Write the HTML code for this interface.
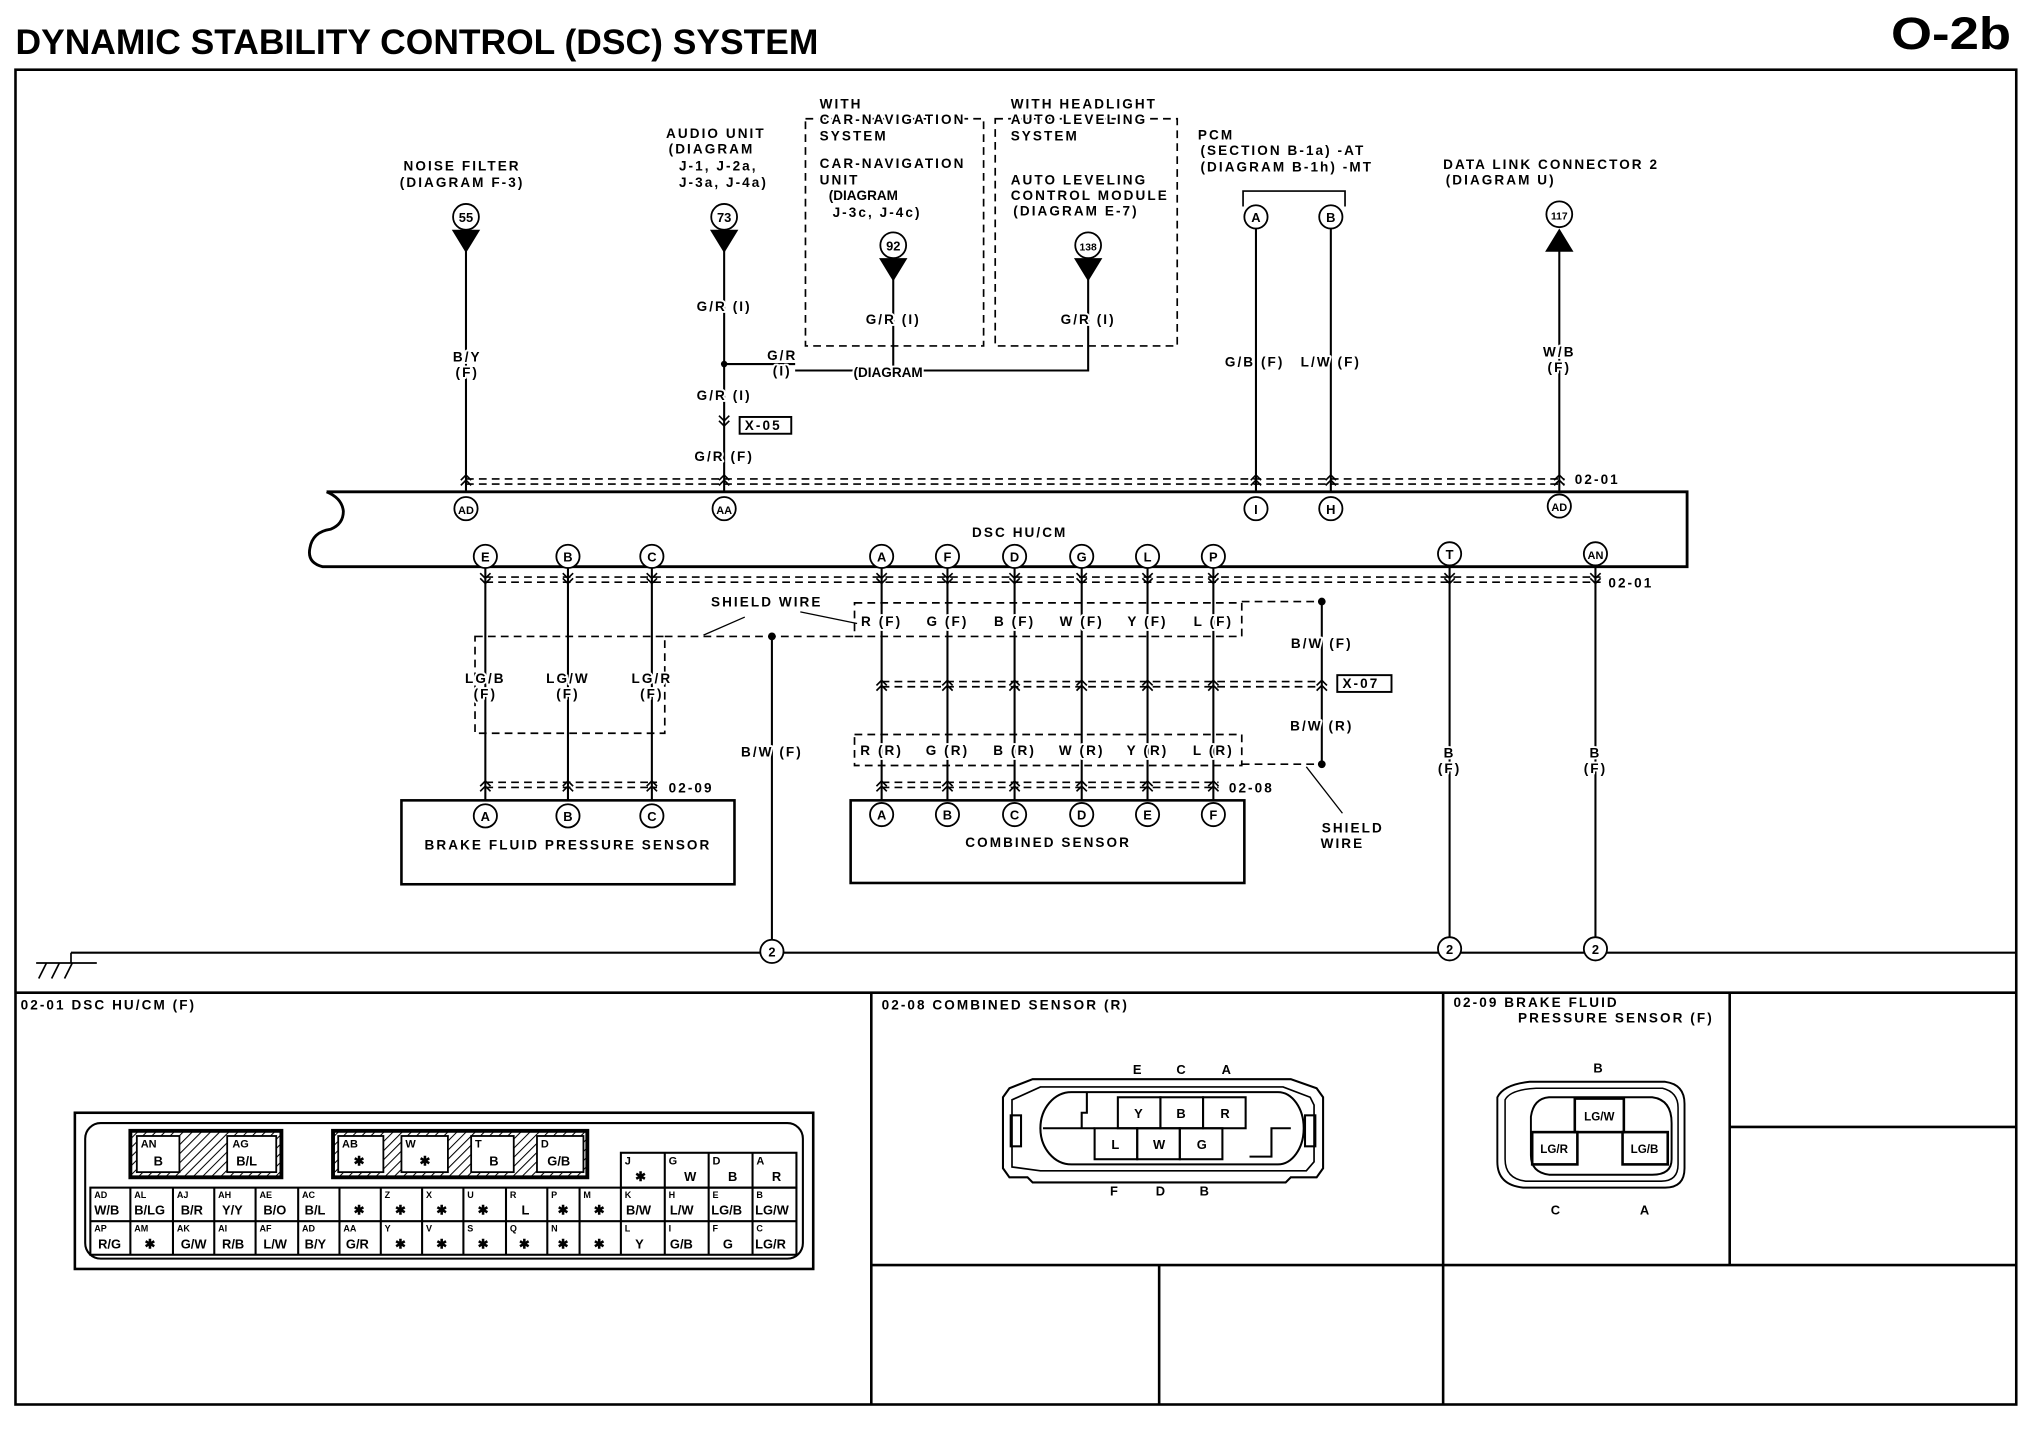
<!DOCTYPE html>
<html><head><meta charset="utf-8"><style>
html,body{margin:0;padding:0;background:#fff;}
svg{display:block;}
text{font-family:"Liberation Sans",sans-serif;fill:#000;}
.s{font-size:10.5px;font-weight:bold;letter-spacing:1.6px;paint-order:stroke;stroke:#fff;stroke-width:3px;stroke-linejoin:round;}
.c{font-size:8.5px;font-weight:bold;}
.cl{font-size:10px;font-weight:bold;}
</style></head><body>
<svg width="2024" height="1440" viewBox="0 0 1568 1115.5" preserveAspectRatio="none" xmlns="http://www.w3.org/2000/svg">
<defs>
<g id="chu"><polyline points="-4,2 0,-2 4,2" fill="none" stroke="#000" stroke-width="1.3"/><polyline points="-4,6 0,2 4,6" fill="none" stroke="#000" stroke-width="1.3"/></g>
<g id="chd"><polyline points="-4,-2 0,2 4,-2" fill="none" stroke="#000" stroke-width="1.3"/><polyline points="-4,-6 0,-2 4,-6" fill="none" stroke="#000" stroke-width="1.3"/></g>
<pattern id="hatch" width="5" height="5" patternUnits="userSpaceOnUse" patternTransform="rotate(45)"><line x1="0" y1="0" x2="0" y2="5" stroke="#000" stroke-width="1.6"/></pattern>
</defs>
<!-- title -->
<text x="12" y="42" style="font-size:27px;font-weight:bold" textLength="622" lengthAdjust="spacingAndGlyphs">DYNAMIC STABILITY CONTROL (DSC) SYSTEM</text>
<text x="1465" y="38" style="font-size:35px;font-weight:bold" textLength="93" lengthAdjust="spacingAndGlyphs">O-2b</text>
<g fill="none" stroke="#000">
<rect x="12" y="54" width="1550" height="1034" stroke-width="2"/>
<line x1="55" y1="738" x2="1562" y2="738" stroke-width="1.6"/>
<polyline points="28,746 75,746" stroke-width="1.3"/>
<line x1="55" y1="738" x2="55" y2="746" stroke-width="1.3"/>
<line x1="30" y1="758" x2="36" y2="746" stroke-width="1.3"/><line x1="40" y1="758" x2="46" y2="746" stroke-width="1.3"/><line x1="50" y1="758" x2="56" y2="746" stroke-width="1.3"/>
<line x1="12" y1="769" x2="1562" y2="769" stroke-width="2"/>
<line x1="675" y1="769" x2="675" y2="1088" stroke-width="2"/>
<line x1="1118" y1="769" x2="1118" y2="1088" stroke-width="2"/>
<line x1="1340" y1="769" x2="1340" y2="980" stroke-width="2"/>
<line x1="675" y1="980" x2="1562" y2="980" stroke-width="2"/>
<line x1="898" y1="980" x2="898" y2="1088" stroke-width="2"/>
<line x1="1340" y1="873" x2="1562" y2="873" stroke-width="2"/>
<!-- module -->
<path d="M253,381 L1307,381 L1307,439 L250,439 Q238,436 240,425 Q242,412 256,410 Q266,406 266,396 Q265,386 253,381" stroke-width="2.2"/>
</g>
<!-- top connector dashed -->
<g stroke="#000" stroke-width="1.3" stroke-dasharray="6,4" fill="none">
<line x1="361" y1="371" x2="1212" y2="371"/><line x1="361" y1="375" x2="1212" y2="375"/>
<line x1="376" y1="447" x2="1240" y2="447"/><line x1="376" y1="451" x2="1240" y2="451"/>
<line x1="376" y1="606" x2="509" y2="606"/><line x1="376" y1="610" x2="509" y2="610"/>
<line x1="683" y1="606" x2="944" y2="606"/><line x1="683" y1="610" x2="944" y2="610"/>
<line x1="683" y1="528" x2="1024" y2="528"/><line x1="683" y1="532" x2="1024" y2="532"/>
<rect x="624" y="92" width="138" height="176"/><rect x="771" y="92" width="141" height="176"/>
<rect x="368" y="493" width="147" height="75"/>
<rect x="662" y="467" width="300" height="26"/>
<rect x="662" y="569" width="300" height="24"/>
<line x1="962" y1="466" x2="1024" y2="466"/><line x1="962" y1="592" x2="1024" y2="592"/>
<line x1="515" y1="493" x2="662" y2="493"/>
</g>
<!-- wires -->
<g stroke="#000" stroke-width="1.6" fill="none">
<line x1="361" y1="190" x2="361" y2="381"/>
<line x1="561" y1="190" x2="561" y2="381"/>
<line x1="973" y1="177" x2="973" y2="381"/>
<line x1="1031" y1="177" x2="1031" y2="381"/>
<line x1="1208" y1="180" x2="1208" y2="381"/>
<polyline points="561,282 616,282"/>
<polyline points="616,287 843,287 843,212"/>
<line x1="692" y1="212" x2="692" y2="287"/>
<polyline points="963,160 963,148 1042,148 1042,160" stroke-width="1.3"/>
<line x1="376" y1="439" x2="376" y2="620"/><line x1="440" y1="439" x2="440" y2="620"/><line x1="505" y1="439" x2="505" y2="620"/>
<line x1="683" y1="439" x2="683" y2="620"/><line x1="734" y1="439" x2="734" y2="620"/><line x1="786" y1="439" x2="786" y2="620"/>
<line x1="838" y1="439" x2="838" y2="620"/><line x1="889" y1="439" x2="889" y2="620"/><line x1="940" y1="439" x2="940" y2="620"/>
<line x1="1123" y1="439" x2="1123" y2="738"/><line x1="1236" y1="439" x2="1236" y2="738"/>
<line x1="598" y1="493" x2="598" y2="738"/>
<line x1="1024" y1="466" x2="1024" y2="592"/>
<rect x="311" y="620" width="258" height="65" stroke-width="2"/>
<rect x="659" y="620" width="305" height="64" stroke-width="2"/>
<line x1="1040" y1="630" x2="1012" y2="594" stroke-width="1"/>
<line x1="577" y1="478" x2="545" y2="492" stroke-width="1"/>
<line x1="620" y1="474" x2="664" y2="483" stroke-width="1"/>
</g>
<text x="790" y="416" class="s" text-anchor="middle">DSC HU/CM</text>
<text x="1220" y="375" class="s">02-01</text>
<text x="1246" y="455" class="s">02-01</text>
<text x="518" y="614" class="s">02-09</text>
<text x="952" y="614" class="s">02-08</text>
<g fill="#000"><circle cx="561" cy="282" r="2.5"/><circle cx="598" cy="493" r="3"/><circle cx="1024" cy="466" r="3"/><circle cx="1024" cy="592" r="3"/>
<polygon points="350,178 372,178 361,196"/><polygon points="550,178 572,178 561,196"/>
<polygon points="681,200 703,200 692,218"/><polygon points="832,200 854,200 843,218"/>
<polygon points="1197,195 1219,195 1208,177"/>
</g>
<!-- chevrons -->
<g>
<use href="#chu" x="361" y="370"/><use href="#chu" x="561" y="370"/><use href="#chu" x="973" y="370"/><use href="#chu" x="1031" y="370"/><use href="#chu" x="1208" y="370"/>
<use href="#chd" x="561" y="328"/>
<use href="#chd" x="376" y="450"/><use href="#chd" x="440" y="450"/><use href="#chd" x="505" y="450"/><use href="#chd" x="683" y="450"/><use href="#chd" x="734" y="450"/><use href="#chd" x="786" y="450"/><use href="#chd" x="838" y="450"/><use href="#chd" x="889" y="450"/><use href="#chd" x="940" y="450"/><use href="#chd" x="1123" y="450"/><use href="#chd" x="1236" y="450"/>
<use href="#chu" x="376" y="607"/><use href="#chu" x="440" y="607"/><use href="#chu" x="505" y="607"/><use href="#chu" x="683" y="607"/><use href="#chu" x="734" y="607"/><use href="#chu" x="786" y="607"/><use href="#chu" x="838" y="607"/><use href="#chu" x="889" y="607"/><use href="#chu" x="940" y="607"/>
<use href="#chu" x="683" y="529"/><use href="#chu" x="734" y="529"/><use href="#chu" x="786" y="529"/><use href="#chu" x="838" y="529"/><use href="#chu" x="889" y="529"/><use href="#chu" x="940" y="529"/><use href="#chu" x="1024" y="529"/>
</g>
<rect x="573" y="323" width="40" height="13" fill="none" stroke="#000" stroke-width="1.5"/><text x="577" y="333" class="s">X-05</text>
<rect x="1036" y="523" width="42" height="13" fill="none" stroke="#000" stroke-width="1.5"/><text x="1040" y="533" class="s">X-07</text>
<!-- pin circles -->
<g fill="#fff" stroke="#000" stroke-width="1.4">
<circle cx="361" cy="168" r="10"/><circle cx="561" cy="168" r="10"/><circle cx="692" cy="190" r="10"/><circle cx="843" cy="190" r="10"/><circle cx="1208" cy="166" r="10"/>
<circle cx="973" cy="168" r="9"/><circle cx="1031" cy="168" r="9"/>
<circle cx="361" cy="394" r="9"/><circle cx="561" cy="394" r="9"/><circle cx="973" cy="394" r="9"/><circle cx="1031" cy="394" r="9"/><circle cx="1208" cy="392" r="9"/>
<circle cx="376" cy="431" r="9"/><circle cx="440" cy="431" r="9"/><circle cx="505" cy="431" r="9"/><circle cx="683" cy="431" r="9"/><circle cx="734" cy="431" r="9"/><circle cx="786" cy="431" r="9"/><circle cx="838" cy="431" r="9"/><circle cx="889" cy="431" r="9"/><circle cx="940" cy="431" r="9"/><circle cx="1123" cy="429" r="9"/><circle cx="1236" cy="429" r="9"/>
<circle cx="376" cy="632" r="9"/><circle cx="440" cy="632" r="9"/><circle cx="505" cy="632" r="9"/>
<circle cx="683" cy="631" r="9"/><circle cx="734" cy="631" r="9"/><circle cx="786" cy="631" r="9"/><circle cx="838" cy="631" r="9"/><circle cx="889" cy="631" r="9"/><circle cx="940" cy="631" r="9"/>
<circle cx="598" cy="737" r="9"/><circle cx="1123" cy="735" r="9"/><circle cx="1236" cy="735" r="9"/>
</g>
<g class="cl" text-anchor="middle" style="font-size:10px;font-weight:bold">
<text x="361" y="172">55</text><text x="561" y="172">73</text><text x="692" y="194">92</text><text x="843" y="194" style="font-size:8px">138</text><text x="1208" y="170" style="font-size:8px">117</text>
<text x="973" y="172">A</text><text x="1031" y="172">B</text>
<text x="361" y="398" style="font-size:8.5px">AD</text><text x="561" y="398" style="font-size:8.5px">AA</text><text x="973" y="398">I</text><text x="1031" y="398">H</text><text x="1208" y="396" style="font-size:8.5px">AD</text>
<text x="376" y="435">E</text><text x="440" y="435">B</text><text x="505" y="435">C</text><text x="683" y="435">A</text><text x="734" y="435">F</text><text x="786" y="435">D</text><text x="838" y="435">G</text><text x="889" y="435">L</text><text x="940" y="435">P</text><text x="1123" y="433">T</text><text x="1236" y="433" style="font-size:8.5px">AN</text>
<text x="376" y="636">A</text><text x="440" y="636">B</text><text x="505" y="636">C</text>
<text x="683" y="635">A</text><text x="734" y="635">B</text><text x="786" y="635">C</text><text x="838" y="635">D</text><text x="889" y="635">E</text><text x="940" y="635">F</text>
<text x="598" y="741">2</text><text x="1123" y="739">2</text><text x="1236" y="739">2</text>
</g>
<!-- labels -->
<g class="s">
<text x="358" y="132" text-anchor="middle">NOISE FILTER</text><text x="358" y="145" text-anchor="middle">(DIAGRAM F-3)</text>
<text x="516" y="107">AUDIO UNIT</text><text x="518" y="119">(DIAGRAM</text><text x="526" y="132">J-1, J-2a,</text><text x="526" y="145">J-3a, J-4a)</text>
<text x="635" y="84">WITH</text><text x="635" y="96">CAR-NAVIGATION</text><text x="635" y="109">SYSTEM</text>
<text x="635" y="130">CAR-NAVIGATION</text><text x="635" y="143">UNIT</text><text x="642" y="155" style="letter-spacing:0">(DIAGRAM</text><text x="645" y="168">J-3c, J-4c)</text>
<text x="783" y="84">WITH HEADLIGHT</text><text x="783" y="96">AUTO LEVELING</text><text x="783" y="109">SYSTEM</text>
<text x="783" y="143">AUTO LEVELING</text><text x="783" y="155">CONTROL MODULE</text><text x="785" y="167">(DIAGRAM E-7)</text>
<text x="928" y="108">PCM</text><text x="930" y="120">(SECTION B-1a) -AT</text><text x="930" y="133">(DIAGRAM B-1h) -MT</text>
<text x="1118" y="131">DATA LINK CONNECTOR 2</text><text x="1120" y="143">(DIAGRAM U)</text>
<text x="362" y="280" text-anchor="middle">B/Y</text><text x="362" y="292" text-anchor="middle">(F)</text>
<text x="561" y="241" text-anchor="middle">G/R (I)</text><text x="606" y="279" text-anchor="middle">G/R</text><text x="606" y="291" text-anchor="middle">(I)</text>
<text x="688" y="292" text-anchor="middle" style="letter-spacing:0">(DIAGRAM</text>
<text x="561" y="310" text-anchor="middle">G/R (I)</text><text x="561" y="357" text-anchor="middle">G/R (F)</text>
<text x="692" y="251" text-anchor="middle">G/R (I)</text><text x="843" y="251" text-anchor="middle">G/R (I)</text>
<text x="972" y="284" text-anchor="middle">G/B (F)</text><text x="1031" y="284" text-anchor="middle">L/W (F)</text>
<text x="1208" y="276" text-anchor="middle">W/B</text><text x="1208" y="288" text-anchor="middle">(F)</text>
<text x="594" y="470" text-anchor="middle">SHIELD WIRE</text>
<text x="683" y="485" text-anchor="middle">R (F)</text><text x="734" y="485" text-anchor="middle">G (F)</text><text x="786" y="485" text-anchor="middle">B (F)</text><text x="838" y="485" text-anchor="middle">W (F)</text><text x="889" y="485" text-anchor="middle">Y (F)</text><text x="940" y="485" text-anchor="middle">L (F)</text>
<text x="683" y="585" text-anchor="middle">R (R)</text><text x="734" y="585" text-anchor="middle">G (R)</text><text x="786" y="585" text-anchor="middle">B (R)</text><text x="838" y="585" text-anchor="middle">W (R)</text><text x="889" y="585" text-anchor="middle">Y (R)</text><text x="940" y="585" text-anchor="middle">L (R)</text>
<text x="1024" y="502" text-anchor="middle">B/W (F)</text><text x="1024" y="566" text-anchor="middle">B/W (R)</text>
<text x="376" y="529" text-anchor="middle">LG/B</text><text x="376" y="541" text-anchor="middle">(F)</text>
<text x="440" y="529" text-anchor="middle">LG/W</text><text x="440" y="541" text-anchor="middle">(F)</text>
<text x="505" y="529" text-anchor="middle">LG/R</text><text x="505" y="541" text-anchor="middle">(F)</text>
<text x="598" y="586" text-anchor="middle">B/W (F)</text>
<text x="1123" y="587" text-anchor="middle">B</text><text x="1123" y="599" text-anchor="middle">(F)</text>
<text x="1236" y="587" text-anchor="middle">B</text><text x="1236" y="599" text-anchor="middle">(F)</text>
<text x="1048" y="645" text-anchor="middle">SHIELD</text><text x="1040" y="657" text-anchor="middle">WIRE</text>
<text x="440" y="658" text-anchor="middle">BRAKE FLUID PRESSURE SENSOR</text>
<text x="812" y="656" text-anchor="middle">COMBINED SENSOR</text>
<text x="16" y="782">02-01 DSC HU/CM (F)</text>
<text x="683" y="782">02-08 COMBINED SENSOR (R)</text>
<text x="1126" y="780">02-09 BRAKE FLUID</text><text x="1176" y="792">PRESSURE SENSOR (F)</text>
</g>
<!-- DSC connector table -->
<g fill="none" stroke="#000">
<rect x="58" y="862" width="572" height="121" stroke-width="2"/>
<rect x="66" y="870" width="556" height="105" rx="12" stroke-width="1.6"/>
<rect x="101" y="876" width="117" height="36" fill="url(#hatch)" stroke-width="3"/>
<rect x="258" y="876" width="197" height="36" fill="url(#hatch)" stroke-width="3"/>
</g>
<g fill="#fff" stroke="#000" stroke-width="1.4">
<rect x="106" y="880" width="33" height="28"/><rect x="176" y="880" width="38" height="28"/>
<rect x="262" y="880" width="35" height="28"/><rect x="311" y="880" width="36" height="28"/><rect x="365" y="880" width="33" height="28"/><rect x="416" y="880" width="36" height="28"/>
</g>
<g fill="none" stroke="#000" stroke-width="1.6">
<rect x="481" y="893" width="136" height="27"/>
<line x1="515" y1="893" x2="515" y2="972"/><line x1="549" y1="893" x2="549" y2="972"/><line x1="583" y1="893" x2="583" y2="972"/>
<rect x="70" y="920" width="547" height="52"/><line x1="70" y1="946" x2="617" y2="946"/>
<line x1="101" y1="920" x2="101" y2="972"/><line x1="134" y1="920" x2="134" y2="972"/><line x1="166" y1="920" x2="166" y2="972"/><line x1="198" y1="920" x2="198" y2="972"/><line x1="231" y1="920" x2="231" y2="972"/><line x1="263" y1="920" x2="263" y2="972"/><line x1="295" y1="920" x2="295" y2="972"/><line x1="327" y1="920" x2="327" y2="972"/><line x1="359" y1="920" x2="359" y2="972"/><line x1="392" y1="920" x2="392" y2="972"/><line x1="424" y1="920" x2="424" y2="972"/><line x1="449" y1="920" x2="449" y2="972"/><line x1="481" y1="920" x2="481" y2="972"/>
</g>
<g class="c">
<text x="109" y="889">AN</text><text x="119" y="903" class="cl">B</text><text x="180" y="889">AG</text><text x="183" y="903" class="cl">B/L</text>
<text x="265" y="889">AB</text><text x="274" y="903" class="cl">✱</text><text x="314" y="889">W</text><text x="325" y="903" class="cl">✱</text>
<text x="368" y="889">T</text><text x="379" y="903" class="cl">B</text><text x="419" y="889">D</text><text x="424" y="903" class="cl">G/B</text>
<text x="484" y="902">J</text><text x="492" y="915" class="cl">✱</text><text x="518" y="902">G</text><text x="530" y="915" class="cl">W</text><text x="552" y="902">D</text><text x="564" y="915" class="cl">B</text><text x="586" y="902">A</text><text x="598" y="915" class="cl">R</text>
</g>
<g class="c" style="font-size:10px">
<text x="73" y="941">W/B</text><text x="104" y="941">B/LG</text><text x="140" y="941">B/R</text><text x="172" y="941">Y/Y</text><text x="204" y="941">B/O</text><text x="236" y="941">B/L</text><text x="274" y="941">✱</text><text x="306" y="941">✱</text><text x="338" y="941">✱</text><text x="370" y="941">✱</text><text x="404" y="941">L</text><text x="432" y="941">✱</text><text x="460" y="941">✱</text><text x="485" y="941">B/W</text><text x="519" y="941">L/W</text><text x="551" y="941">LG/B</text><text x="585" y="941">LG/W</text>
<text x="76" y="967">R/G</text><text x="112" y="967">✱</text><text x="140" y="967">G/W</text><text x="172" y="967">R/B</text><text x="204" y="967">L/W</text><text x="236" y="967">B/Y</text><text x="268" y="967">G/R</text><text x="306" y="967">✱</text><text x="338" y="967">✱</text><text x="370" y="967">✱</text><text x="402" y="967">✱</text><text x="432" y="967">✱</text><text x="460" y="967">✱</text><text x="492" y="967">Y</text><text x="519" y="967">G/B</text><text x="560" y="967">G</text><text x="585" y="967">LG/R</text>
</g>
<g class="c" style="font-size:7px">
<text x="73" y="928">AD</text><text x="104" y="928">AL</text><text x="137" y="928">AJ</text><text x="169" y="928">AH</text><text x="201" y="928">AE</text><text x="234" y="928">AC</text><text x="298" y="928">Z</text><text x="330" y="928">X</text><text x="362" y="928">U</text><text x="395" y="928">R</text><text x="427" y="928">P</text><text x="452" y="928">M</text><text x="484" y="928">K</text><text x="518" y="928">H</text><text x="552" y="928">E</text><text x="586" y="928">B</text>
<text x="73" y="954">AP</text><text x="104" y="954">AM</text><text x="137" y="954">AK</text><text x="169" y="954">AI</text><text x="201" y="954">AF</text><text x="234" y="954">AD</text><text x="266" y="954">AA</text><text x="298" y="954">Y</text><text x="330" y="954">V</text><text x="362" y="954">S</text><text x="395" y="954">Q</text><text x="427" y="954">N</text><text x="484" y="954">L</text><text x="518" y="954">I</text><text x="552" y="954">F</text><text x="586" y="954">C</text>
</g>
<!-- combined sensor connector -->
<g fill="none" stroke="#000" stroke-width="1.6">
<path d="M800,836 L1000,836 L1020,843 L1025,850 L1025,905 L1020,912 L1000,912 L996,916 L800,916 L796,912 L782,912 L777,905 L777,850 L782,843 Z"/>
<path d="M806,842 L994,842 L1015,850 L1018,856 L1018,900 L1012,907 L806,907 L784,904 L784,852 Z" stroke-width="1.3"/>
<path d="M830,846 L990,846 A20,28 0 0 1 990,902 L830,902 A24,28 0 0 1 830,846 Z"/>
<line x1="808" y1="874" x2="848" y2="874"/>
<polyline points="842,846 842,862 838,862 838,874"/>
<polyline points="968,896 985,896 985,874 1000,874"/>
<rect x="783" y="864" width="8" height="24"/><rect x="1011" y="864" width="8" height="24"/>
<rect x="866" y="850" width="33" height="24"/><rect x="899" y="850" width="33" height="24"/><rect x="932" y="850" width="33" height="24"/>
<rect x="848" y="874" width="33" height="24"/><rect x="881" y="874" width="33" height="24"/><rect x="914" y="874" width="33" height="24"/>
</g>
<g class="cl" text-anchor="middle">
<text x="881" y="832">E</text><text x="915" y="832">C</text><text x="950" y="832">A</text>
<text x="882" y="866">Y</text><text x="915" y="866">B</text><text x="949" y="866">R</text>
<text x="864" y="890">L</text><text x="898" y="890">W</text><text x="931" y="890">G</text>
<text x="863" y="926">F</text><text x="899" y="926">D</text><text x="933" y="926">B</text>
</g>
<!-- brake fluid connector -->
<g fill="none" stroke="#000" stroke-width="1.5">
<path d="M1185,838 L1290,838 Q1305,840 1305,855 L1305,905 Q1305,920 1290,920 L1180,920 Q1160,918 1160,900 L1160,850 Q1165,840 1185,838 Z"/>
<path d="M1190,843 L1288,843 Q1300,846 1300,858 L1300,902 Q1300,915 1287,915 L1182,915 Q1166,913 1166,898 L1166,852 Q1170,844 1190,843 Z" stroke-width="1.2"/>
<path d="M1200,850 L1280,850 Q1295,852 1295,870 L1295,898 Q1295,910 1280,910 L1200,910 Q1186,908 1186,895 L1186,865 Q1188,851 1200,850 Z"/>
<rect x="1220" y="851" width="38" height="26" stroke-width="2"/>
<rect x="1187" y="877" width="35" height="25" stroke-width="2"/>
<rect x="1257" y="877" width="35" height="25" stroke-width="2"/>
</g>
<g class="cl" text-anchor="middle" style="font-size:9px">
<text x="1238" y="831" style="font-size:10px">B</text><text x="1239" y="868">LG/W</text><text x="1204" y="893">LG/R</text><text x="1274" y="893">LG/B</text>
<text x="1205" y="941" style="font-size:10px">C</text><text x="1274" y="941" style="font-size:10px">A</text>
</g>
</svg>
</body></html>
